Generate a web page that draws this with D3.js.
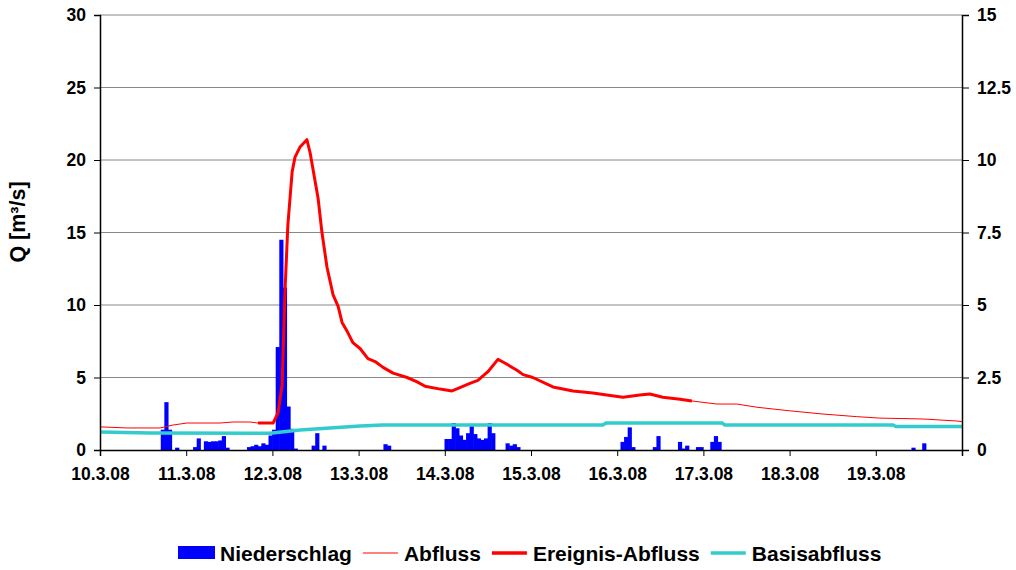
<!DOCTYPE html>
<html>
<head>
<meta charset="utf-8">
<script src="https://cdn.jsdelivr.net/npm/d3@7"></script>
<style>
  body { margin: 0; background: #fff; }
  svg text { font-family: "Liberation Sans", Arial, sans-serif; font-weight: bold; }
</style>
</head>
<body>
<svg id="chart" width="1016" height="570"></svg>
<script>
// Stunden ab 10.3.08 00:00
var abflussStunde = [0, 0.6, 7.5, 16.7, 20.3, 24.2, 33.4, 37, 41.8, 44, 48.2,
	49.6, 50.7, 51.5, 52.3, 53.5, 54.3, 55.7, 57.6, 58.5, 60.7, 61.8, 63.2, 64.9, 66.3, 67.4,
	69, 70.4, 72.4, 74.6, 76.6, 78.8, 81.6, 85.5, 88.3, 90.5, 94.7, 98, 100.2, 103, 105.2,
	108, 110.8, 112.7, 116.1, 117.8, 120.5, 126.1, 131.7, 137.2, 141.1, 145.6, 150.3, 153.1,
	156.7, 161.5, 164.8, 171.8, 177.3, 182.9, 192.1, 201.3, 210.7, 217.1, 229.1, 238.6, 240];
var abflussWert = [1.59, 1.59, 1.52, 1.52, 1.72, 1.86, 1.86, 1.93, 1.93, 1.86, 1.86,
	2.6, 4.5, 10.9, 15.5, 19.2, 20.2, 20.9, 21.4, 20.5, 17.4, 15.0, 12.6, 10.7, 9.9, 8.8,
	8.1, 7.4, 7.0, 6.3, 6.1, 5.7, 5.3, 5.0, 4.7, 4.4, 4.2, 4.07, 4.3, 4.6, 4.8,
	5.4, 6.25, 6.0, 5.5, 5.2, 5.0, 4.35, 4.07, 3.93, 3.79, 3.64, 3.79, 3.86,
	3.64, 3.5, 3.38, 3.17, 3.17, 2.95, 2.7, 2.48, 2.3, 2.2, 2.14, 2.0, 1.95];

// Ereignis-Abfluss: Zeitfenster des Ereignisses (Stunden)
var ereignisVon = 44, ereignisBis = 164.8;

var basisStunde = [0, 14, 47.3, 55.7, 64, 72.4, 78.8, 140, 140.9, 173.2, 174, 220.8, 221.6, 240];
var basisWert   = [1.24, 1.17, 1.15, 1.38, 1.52, 1.66, 1.72, 1.72, 1.86, 1.86, 1.72, 1.72, 1.62, 1.62];

// Niederschlag (mm/h, rechte Achse)
var nsStunde = [17, 18, 19, 21, 26, 27, 29, 30, 31, 32, 33, 34, 35, 41, 42, 43, 44, 45, 46, 47,
	48, 49, 50, 51, 52, 53, 54, 59, 60, 62, 79, 80, 96, 97, 98, 99, 100, 101, 102, 103, 104, 105,
	106, 107, 108, 109, 113, 114, 115, 116, 145, 146, 147, 148, 154, 155, 161, 162, 163, 166, 167,
	170, 171, 172, 226, 229];
var nsWert = [0.7, 1.65, 0.7, 0.08, 0.1, 0.4, 0.3, 0.28, 0.3, 0.3, 0.33, 0.48, 0.08, 0.1, 0.13, 0.18, 0.13, 0.23, 0.18, 0.5,
	0.7, 3.55, 7.25, 5.6, 1.5, 0.73, 0.05, 0.15, 0.58, 0.15, 0.2, 0.15, 0.38, 0.38, 0.93, 0.75, 0.5, 0.35, 0.58, 0.9, 0.55, 0.4,
	0.35, 0.4, 0.93, 0.58, 0.23, 0.15, 0.2, 0.1, 0.28, 0.45, 0.78, 0.1, 0.1, 0.48, 0.28, 0.05, 0.15, 0.1, 0.1,
	0.28, 0.48, 0.28, 0.08, 0.23];

var yLinksTicks = [0, 5, 10, 15, 20, 25, 30];
var yRechtsTicks = [0, 2.5, 5, 7.5, 10, 12.5, 15];

var start = new Date(2008, 2, 10), ende = new Date(2008, 2, 20);
function zeit(h) { return new Date(start.getTime() + h * 3600000); }

var svg = d3.select('#chart');
var m = {left: 100, right: 54, top: 15, bottom: 120};
var W = 1016 - m.left - m.right, H = 570 - m.top - m.bottom;
var g = svg.append('g').attr('transform', 'translate(' + m.left + ',' + m.top + ')');

var x = d3.scaleTime().domain([start, ende]).range([0, W]);
var yL = d3.scaleLinear().domain([0, 30]).range([H, 0]);
var yR = d3.scaleLinear().domain([0, 15]).range([H, 0]);

// Gitter
g.append('g').selectAll('line').data(yLinksTicks.slice(1)).enter().append('line')
	.attr('x1', 0).attr('x2', W)
	.attr('y1', function(d) { return yL(d); }).attr('y2', function(d) { return yL(d); })
	.attr('stroke', '#888').attr('stroke-width', 1);

// Niederschlag
var ns = nsStunde.map(function(h, i) { return {h: h, v: nsWert[i]}; });
g.append('g').selectAll('rect').data(ns).enter().append('rect')
	.attr('x', function(d) { return x(zeit(d.h)) - 0.3; })
	.attr('width', function(d) { return x(zeit(d.h + 1)) - x(zeit(d.h)) + 0.6; })
	.attr('y', function(d) { return yR(d.v); })
	.attr('height', function(d) { return H - yR(d.v); })
	.attr('fill', '#0000ff');

var abfluss = abflussStunde.map(function(h, i) { return {h: h, v: abflussWert[i]}; });
var ereignis = abfluss.filter(function(d) { return d.h >= ereignisVon && d.h <= ereignisBis; });
var basis = basisStunde.map(function(h, i) { return {h: h, v: basisWert[i]}; });

var linie = d3.line().x(function(d) { return x(zeit(d.h)); }).y(function(d) { return yL(d.v); });

g.append('path').datum(basis).attr('d', linie)
	.attr('fill', 'none').attr('stroke', '#33cccc').attr('stroke-width', 3.5);
g.append('path').datum(abfluss).attr('d', linie)
	.attr('fill', 'none').attr('stroke', '#ff0000').attr('stroke-width', 1);
g.append('path').datum(ereignis).attr('d', linie)
	.attr('fill', 'none').attr('stroke', '#ff0000').attr('stroke-width', 3).attr('stroke-linejoin', 'round');

// Achsen
var ax = g.append('g').attr('transform', 'translate(0,' + H + ')')
	.call(d3.axisBottom(x).ticks(d3.timeDay.every(1)).tickSize(6).tickPadding(12)
		.tickFormat(function(d) { return +d === +ende ? '' : d3.timeFormat('%-d.%-m.%y')(d); }));
var al = g.append('g')
	.call(d3.axisLeft(yL).tickValues(yLinksTicks).tickSize(6).tickPadding(8));
var ar = g.append('g').attr('transform', 'translate(' + W + ',0)')
	.call(d3.axisRight(yR).tickValues(yRechtsTicks).tickSize(7).tickPadding(8).tickFormat(d3.format('')));

[ax, al, ar].forEach(function(a) {
	a.select('.domain').attr('stroke', '#000').attr('stroke-width', 1.5);
	a.selectAll('.tick line').attr('stroke', '#000');
	a.selectAll('text').attr('font-size', 17.5).attr('fill', '#000')
		.style('font-family', '"Liberation Sans", Arial, sans-serif').style('font-weight', 'bold');
});

svg.append('text').attr('transform', 'translate(25,' + (m.top + 207) + ') rotate(-90)')
	.attr('text-anchor', 'middle').attr('font-size', 21.5).text('Q [m³/s]');

// Legende
var leg = svg.append('g').attr('transform', 'translate(178,553)');
var eintraege = [
	{name: 'Niederschlag', typ: 'rect', farbe: '#0000ff'},
	{name: 'Abfluss', typ: 'line', farbe: '#ff0000', breite: 1},
	{name: 'Ereignis-Abfluss', typ: 'line', farbe: '#ff0000', breite: 3.5},
	{name: 'Basisabfluss', typ: 'line', farbe: '#33cccc', breite: 3.5}
];
var lx = 0;
eintraege.forEach(function(e) {
	if (e.typ === 'rect') {
		leg.append('rect').attr('x', lx).attr('y', -7).attr('width', 37).attr('height', 13).attr('fill', e.farbe);
	} else {
		leg.append('line').attr('x1', lx).attr('x2', lx + 35).attr('y1', 0).attr('y2', 0)
			.attr('stroke', e.farbe).attr('stroke-width', e.breite);
	}
	lx += e.typ === 'rect' ? 42 : 41;
	var t = leg.append('text').attr('x', lx).attr('y', 7.5).attr('font-size', 21).text(e.name);
	lx += t.node().getComputedTextLength() + 11;
});
</script>
</body>
</html>
